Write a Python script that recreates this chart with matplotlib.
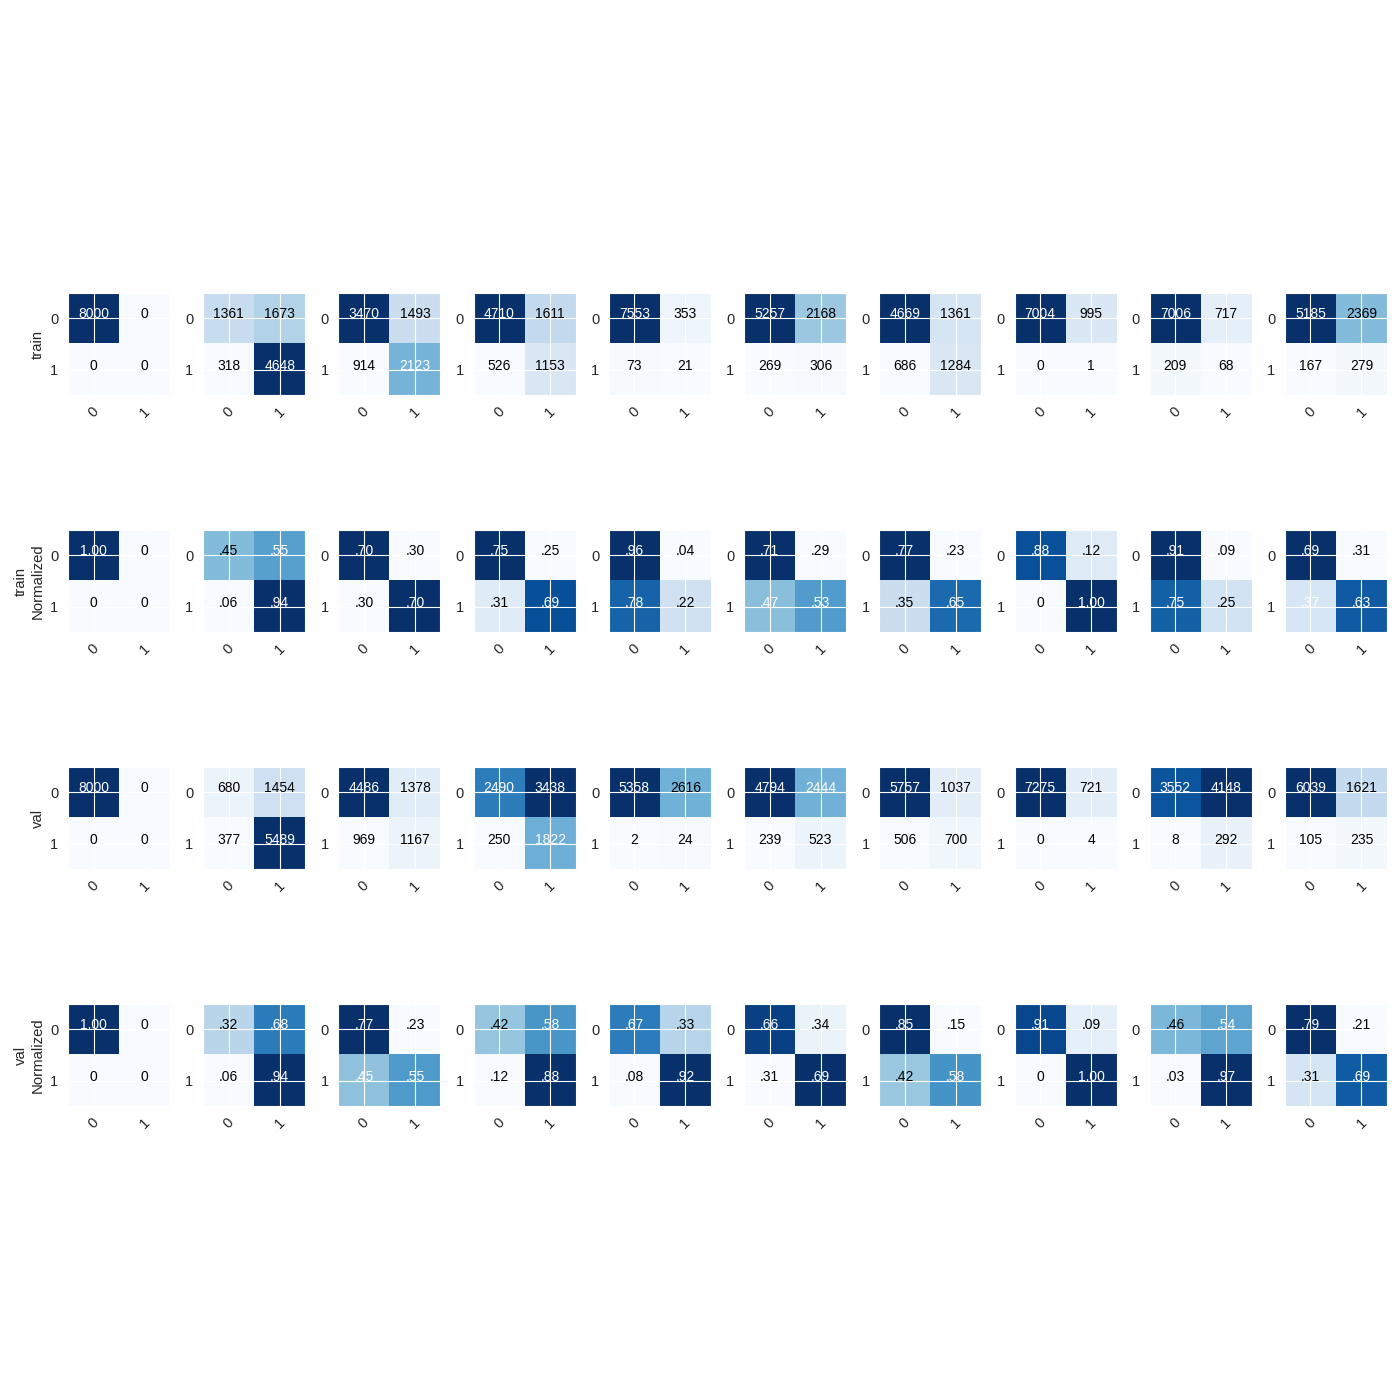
import numpy as np
import matplotlib
matplotlib.use('Agg')
import matplotlib.pyplot as plt
import seaborn as sns

sns.set_style('darkgrid')
plt.rcParams['font.family'] = ['Liberation Sans', 'DejaVu Sans']

classes = ['0', '1']

# confusion matrices, flattened as [tn, fp, fn, tp]
train_cm = [
    [8000, 0, 0, 0],
    [1361, 1673, 318, 4648],
    [3470, 1493, 914, 2123],
    [4710, 1611, 526, 1153],
    [7553, 353, 73, 21],
    [5257, 2168, 269, 306],
    [4669, 1361, 686, 1284],
    [7004, 995, 0, 1],
    [7006, 717, 209, 68],
    [5185, 2369, 167, 279],
]

val_cm = [
    [8000, 0, 0, 0],
    [680, 1454, 377, 5489],
    [4486, 1378, 969, 1167],
    [2490, 3438, 250, 1822],
    [5358, 2616, 2, 24],
    [4794, 2444, 239, 523],
    [5757, 1037, 506, 700],
    [7275, 721, 0, 4],
    [3552, 4148, 8, 292],
    [6039, 1621, 105, 235],
]

row_labels = ['train', 'train\nNormalized', 'val', 'val\nNormalized']


def fmt_value(v, normalize):
    if not normalize:
        return str(int(v))
    if v == 0:
        return '0'
    return '{:.2f}'.format(v).lstrip('0')


def plot_cm(ax, flat, normalize=False, ylabel=None):
    cm = np.array(flat, dtype=float).reshape(2, 2)
    if normalize:
        with np.errstate(invalid='ignore', divide='ignore'):
            cm = cm / cm.sum(axis=1, keepdims=True)
        cm = np.nan_to_num(cm)
    ax.imshow(cm, interpolation='nearest', cmap='Blues')
    thresh = cm.max() / 2.
    for i in range(2):
        for j in range(2):
            ax.text(j, i, fmt_value(cm[i, j], normalize),
                    ha='center', va='baseline', fontsize=10,
                    color='white' if cm[i, j] > thresh else 'black')
    ax.set_xticks(range(len(classes)))
    ax.set_xticklabels(classes, rotation=45, fontsize=10.5)
    ax.set_yticks(range(len(classes)))
    ax.set_yticklabels(classes, fontsize=10.5)
    ax.set_xlim(-0.5, 1.5)
    ax.set_ylim(1.5, -0.5)
    if ylabel:
        ax.set_ylabel(ylabel, fontsize=10.7)


fig, axes = plt.subplots(4, 10, figsize=(14, 14), dpi=100)
fig.subplots_adjust(left=68/1400, right=1387/1400, top=1 - 244/1400,
                    bottom=1 - 1155/1400, wspace=0.3257, hspace=0.185)

for k in range(10):
    plot_cm(axes[0, k], train_cm[k], False, row_labels[0] if k == 0 else None)
    plot_cm(axes[1, k], train_cm[k], True, row_labels[1] if k == 0 else None)
    plot_cm(axes[2, k], val_cm[k], False, row_labels[2] if k == 0 else None)
    plot_cm(axes[3, k], val_cm[k], True, row_labels[3] if k == 0 else None)

fig.savefig('out.png', dpi=100)
